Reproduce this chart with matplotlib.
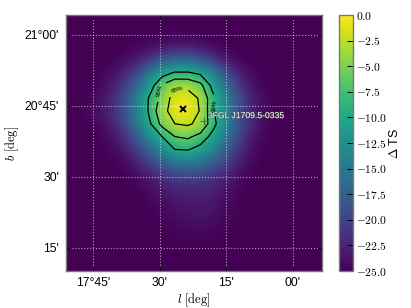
import numpy as np
import matplotlib
matplotlib.use("Agg")
import matplotlib.pyplot as plt
import matplotlib.patheffects as pe

plt.rcParams['mathtext.fontset'] = 'cm'
plt.rcParams['font.family'] = 'Liberation Sans'

W, H = 411, 308
L = -25.0
delta_ts = np.array([
 [L]*20,
 [L,L,L,L,L,L,L,-24.9,-24.8,-24.7,-24.9,L,L,L,L,L,L,L,L,L],
 [L,L,L,L,L,-24.8,-24.3,-23.8,-23.3,-23.2,-23.7,-24.4,-24.9,L,L,L,L,L,L,L],
 [L,L,L,-24.9,-24.3,-23.2,-21.3,-18.5,-17,-16.7,-18.3,-21.3,-23.7,-24.8,L,L,L,L,L,L],
 [L,L,-24.9,-24.3,-22.8,-19.8,-15,-11,-8.9,-8.9,-10,-14,-19,-22.8,-24.5,L,L,L,L,L],
 [L,L,-24.6,-23.4,-20.8,-17,-11.5,-5.6,-3.2,-3.2,-5,-10.5,-16,-20.8,-23.8,-24.9,L,L,L,L],
 [L,-24.9,-24.3,-22.8,-19.5,-14.5,-8.8,-5,-0.6,-0.4,-2.8,-8.5,-13.5,-19,-22.8,-24.5,L,L,L,L],
 [L,-24.7,-23.8,-22.3,-19,-14,-8.7,-3.6,-0.6,-0.4,-2.5,-8.8,-13.5,-19,-22.8,-24.4,L,L,L,L],
 [L,-24.9,-24.5,-23.3,-20,-15,-9.8,-5,-2.3,-1.8,-3.2,-8,-13,-18.5,-22.3,-24.3,L,L,L,L],
 [L,L,-24.9,-24.2,-22,-18,-13,-9.2,-6,-5.4,-7,-10.5,-15,-20,-23.3,-24.7,L,L,L,L],
 [L,L,L,-24.6,-23.5,-20.5,-17,-13.5,-9.2,-8.9,-10.5,-13.5,-17.5,-21.5,-24,-24.9,L,L,L,L],
 [L,L,L,-24.9,-24.5,-23,-20,-17.5,-15,-14.5,-15,-17.5,-20.2,-23,-24.5,L,L,L,L,L],
 [L,L,L,L,-24.9,-24.4,-23,-21.5,-20.3,-20,-20,-21,-22.5,-24.2,-24.9,L,L,L,L,L],
 [L,L,L,L,L,-24.9,-24.2,-23.3,-22.6,-22.3,-22.2,-22.8,-23.8,-24.6,L,L,L,L,L,L],
 [L,L,L,L,L,L,-24.7,-24.1,-23.5,-23.2,-23,-23.4,-24.2,-24.8,L,L,L,L,L,L],
 [L,L,L,L,L,L,-24.9,-24.6,-24.1,-23.7,-23.5,-23.9,-24.5,-24.9,L,L,L,L,L,L],
 [L,L,L,L,L,L,L,-24.9,-24.6,-24.3,-24.2,-24.4,-24.8,L,L,L,L,L,L,L],
 [L,L,L,L,L,L,L,L,-24.9,-24.8,-24.7,-24.8,L,L,L,L,L,L,L,L],
 [L]*20,
 [L]*20,
])
levels = [-9.21, -5.99, -2.3]
level_names = {-9.21: '99%', -5.99: '95%', -2.3: '68%'}
x_ticks = [17.75, 17.5, 17.25, 17.0]
x_labels = ["17\u00b045'", "30'", "15'", "00'"]
y_ticks = [21.0, 20.75, 20.5, 20.25]
y_labels = ["21\u00b000'", "20\u00b045'", "30'", "15'"]
cb_ticks = [0, -2.5, -5, -7.5, -10, -12.5, -15, -17.5, -20, -22.5, -25]
src_name = '3FGL J1709.5-0335'
best_fit = (17.413, 20.739)
src_pos = (17.334, 20.697)

xlim = (17.851, 16.891)
ylim = (20.169, 21.07)

fig = plt.figure(figsize=(W/100, H/100), dpi=100)
ax = fig.add_axes([66/W, 1-271/H, 256/W, 256/H])
im = ax.imshow(delta_ts, cmap='viridis', vmin=-25, vmax=0, origin='upper',
               extent=[xlim[0], xlim[1], ylim[0], ylim[1]], aspect='auto',
               interpolation='bicubic')
nx, ny = delta_ts.shape[1], delta_ts.shape[0]
dx = (xlim[1]-xlim[0])/nx
dy = (ylim[0]-ylim[1])/ny
xc = xlim[0] + dx*(np.arange(nx)+.5)
yc = ylim[1] + dy*(np.arange(ny)+.5)
cs = ax.contour(xc, yc, delta_ts, levels=levels, colors='k', linewidths=0.9,
                negative_linestyles='solid')
ax.clabel(cs, fmt=level_names, fontsize=4.5, inline=True,
          manual=[(17.50, 20.803), (17.433, 20.806), (17.29, 20.752)])
ax.set_xlim(*xlim); ax.set_ylim(*ylim)
ax.set_xticks(x_ticks, x_labels)
ax.set_yticks(y_ticks, y_labels)
ax.tick_params(direction='in', length=3, width=0.7, color='k', labelsize=8.7, pad=5,
               top=True, right=True)
ax.tick_params(axis='x', pad=4)
ax.grid(True, color='white', ls=':', lw=0.8, alpha=0.6)
for s in ax.spines.values():
    s.set_color('#777777'); s.set_linewidth(1.0)
ax.plot(*best_fit, marker='x', color='k', ms=4.5, mew=1.4, ls='none')
ax.plot(*src_pos, marker='+', color='#666666', ms=6, mew=0.8, ls='none')
ax.text(17.319, 20.716, src_name, color='white', fontsize=6.2,
        va='center', ha='left',
        path_effects=[pe.withStroke(linewidth=0.5, foreground='#444444')])
ax.set_xlabel(r'$l\ [\mathrm{deg}]$', fontsize=9, labelpad=2)
ax.set_ylabel(r'$b\ [\mathrm{deg}]$', fontsize=9, labelpad=3)

cax = fig.add_axes([339/W, 1-271/H, 13.5/W, 256/H])
cb = fig.colorbar(im, cax=cax)
cb.set_ticks(cb_ticks)
cb.set_ticklabels(['$%.1f$' % t for t in cb_ticks])
cax.tick_params(direction='in', length=4, width=0.7, color='k', labelsize=8.3, pad=2.5)
cb.outline.set_edgecolor('#777777'); cb.outline.set_linewidth(1.0)
cb.set_label(r'$\Delta$ TS', fontsize=9, labelpad=1)
fig.savefig('out.png', dpi=100)
